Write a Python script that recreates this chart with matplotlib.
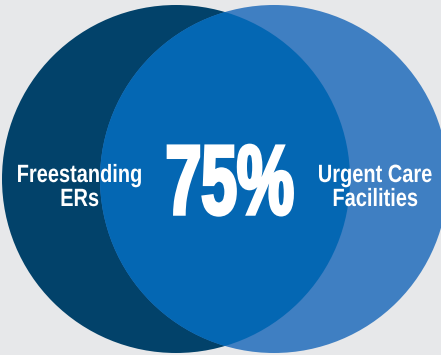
import matplotlib
matplotlib.use("Agg")
import matplotlib.pyplot as plt
from matplotlib.patches import Circle
from matplotlib.patheffects import AbstractPathEffect
from matplotlib.transforms import Affine2D

# data
left_label = ["Freestanding", "ERs"]
right_label = ["Urgent Care", "Facilities"]
overlap_share = 75  # percent

bg_color = "#e7e8ea"
left_color = "#02426a"
right_color = "#3f7fc2"
overlap_color = "#0467b3"


class Squeeze(AbstractPathEffect):
    # squeeze text horizontally around its centre (condensed look), optional outline to make it heavier
    def __init__(self, sx, lw=0):
        super().__init__()
        self.sx = sx
        self.lw = lw

    def draw_path(self, renderer, gc, tpath, affine, rgbFace=None):
        ext = tpath.get_extents(affine)
        cx = (ext.x0 + ext.x1) / 2
        t = affine + Affine2D().translate(-cx, 0).scale(self.sx, 1).translate(cx, 0)
        gc0 = renderer.new_gc()
        gc0.copy_properties(gc)
        if self.lw > 0:
            gc0.set_linewidth(self.lw)
            gc0.set_foreground(rgbFace)
            gc0.set_joinstyle("miter")
        renderer.draw_path(gc0, tpath, t, rgbFace)
        gc0.restore()


fig = plt.figure(figsize=(4.41, 3.55), dpi=100, facecolor=bg_color)
ax = fig.add_axes([0, 0, 1, 1])
ax.set_xlim(0, 441)
ax.set_ylim(355, 0)
ax.set_aspect("equal")
ax.axis("off")

r = 174
left = Circle((176, 179), r, facecolor=left_color, edgecolor="none")
right = Circle((274, 179), r, facecolor=right_color, edgecolor="none")
ax.add_patch(left)
ax.add_patch(right)
mid = Circle((274, 179), r, facecolor=overlap_color, edgecolor="none")
ax.add_patch(mid)
mid.set_clip_path(left)

font = ["Liberation Sans", "DejaVu Sans"]
for lines, x in [(left_label, 79.5), (right_label, 375)]:
    for k, line in enumerate(lines):
        ax.text(x, 182 + 24 * k, line, color="white", fontsize=18, fontweight="bold",
                family=font, ha="center", va="baseline", path_effects=[Squeeze(0.80)])

ax.text(229.5, 214, f"{overlap_share}%", color="white", fontsize=71, fontweight="bold",
        family=font, ha="center", va="baseline", path_effects=[Squeeze(0.65, lw=2.5)])

fig.savefig("out.png", dpi=100, facecolor=bg_color)
